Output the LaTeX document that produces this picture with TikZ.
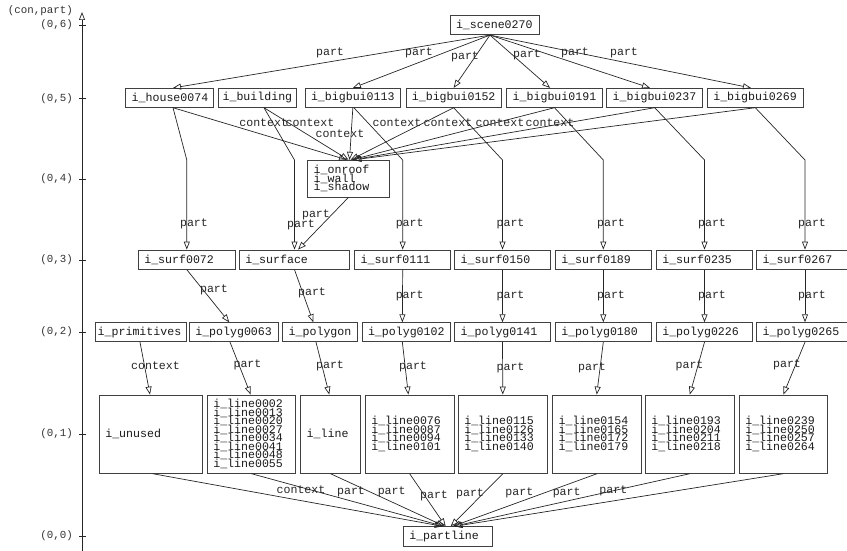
\documentclass[tikz,border=0pt]{standalone}
\usepackage{fontspec}
\newfontfamily\monof{Liberation Mono}
\usetikzlibrary{arrows.meta}
\lineskiplimit=-100pt
\lineskip=0pt
\normallineskiplimit=-100pt
\normallineskip=0pt
\newcommand\tightlines{\lineskiplimit-100pt\relax\lineskip0pt\relax}
\begin{document}
\begin{tikzpicture}[x=1pt,y=-1pt,
  box/.style={draw=black!75, line width=0.8pt, font=\monof\fontsize{11.6}{8.5}\selectfont\tightlines, align=left, inner xsep=6pt, inner ysep=0pt, anchor=center, text=black!90},
  lbl/.style={font=\monof\fontsize{11.6}{11.6}\selectfont, inner sep=0pt, text=black!85},
  axlbl/.style={font=\monof\fontsize{10.8}{10.8}\selectfont, inner sep=0pt, anchor=east, text=black!80},
  arr/.style={draw=black!85, line width=0.7pt, -{Triangle[open,length=8pt,width=6pt]}},
  tick/.style={draw=black!85, line width=0.8pt},
]
\useasboundingbox (0,0) rectangle (847,551);
\clip (0,0) rectangle (847,551);
% axis
\coordinate (axbot) at (82,551);
\coordinate (axtop) at (82,12);
\draw[arr] (axbot) -- (axtop);
\node[axlbl] (axname) at (73,11) {(con,part)};
\foreach \yy/\lab in {25/6,98.3/5,179/4,260/3,332/2,434/1,536/0}{
  \draw[tick] (79,\yy) -- (86,\yy);
  \node[axlbl] (ax\lab) at (73,\yy) {(0,\lab)};
}
% level 6
\node[box, text width=77.3pt, minimum height=19pt] (scene) at (494.65,25.2) {i\_scene0270};
% level 5
\node[box, text width=75.6pt, minimum height=19pt] (house) at (169.5,97.8) {i\_house0074};
\node[box, text width=69.5pt, inner xsep=4.5pt, minimum height=19pt] (building) at (257.35,97.8) {i\_building};
\node[box, text width=83.7pt, minimum height=19pt] (b0113) at (352.85,97.8) {i\_bigbui0113};
\node[box, text width=83.5pt, minimum height=19pt] (b0152) at (453.65,97.8) {i\_bigbui0152};
\node[box, text width=83.6pt, minimum height=19pt] (b0191) at (554.5,97.8) {i\_bigbui0191};
\node[box, text width=84pt, minimum height=19pt] (b0237) at (654.7,97.8) {i\_bigbui0237};
\node[box, text width=84pt, minimum height=19pt] (b0269) at (755.3,97.8) {i\_bigbui0269};
% level 4
\node[box, text width=69.6pt, minimum height=36.7pt] (onroof) at (348.5,178.6) {i\_onroof\\i\_wall\\i\_shadow};
% level 3
\node[box, text width=85pt, minimum height=19.3pt] (surfA) at (186.8,259.65) {i\_surf0072};
\node[box, text width=98.4pt, minimum height=19.3pt] (surface) at (294.5,259.65) {i\_surface};
\node[box, text width=84pt, minimum height=19.3pt] (s0111) at (402.7,259.65) {i\_surf0111};
\node[box, text width=83.6pt, minimum height=19.3pt] (s0150) at (502.5,259.65) {i\_surf0150};
\node[box, text width=84pt, minimum height=19.3pt] (s0189) at (603.3,259.65) {i\_surf0189};
\node[box, text width=84.4pt, minimum height=19.3pt] (s0235) at (704.5,259.65) {i\_surf0235};
\node[box, text width=84.6pt, minimum height=19.3pt] (s0267) at (805,259.65) {i\_surf0267};
% level 2
\node[box, text width=87pt, inner xsep=2pt, minimum height=19pt] (primitives) at (141.2,332.2) {i\_primitives};
\node[box, text width=77pt, minimum height=19pt] (p0063) at (233.8,332.2) {i\_polyg0063};
\node[box, text width=62.6pt, minimum height=19pt] (polygon) at (320,332.2) {i\_polygon};
\node[box, text width=76.7pt, minimum height=19pt] (p0102) at (406.35,332.2) {i\_polyg0102};
\node[box, text width=83.6pt, minimum height=19pt] (p0141) at (502.5,332.2) {i\_polyg0141};
\node[box, text width=84pt, minimum height=19pt] (p0180) at (603.3,332.2) {i\_polyg0180};
\node[box, text width=84.4pt, minimum height=19pt] (p0226) at (704.5,332.2) {i\_polyg0226};
\node[box, text width=84.6pt, minimum height=19pt] (p0265) at (805,332.2) {i\_polyg0265};
% level 1
\node[box, text width=91pt, minimum height=78.3pt] (unused) at (150.8,434.15) {i\_unused};
\node[box, text width=76.4pt, minimum height=78.3pt] (L1) at (251.5,434.15) {i\_line0002\\i\_line0013\\i\_line0020\\i\_line0027\\i\_line0034\\i\_line0041\\i\_line0048\\i\_line0055};
\node[box, text width=47.6pt, minimum height=78.3pt] (line) at (330.5,434.15) {i\_line};
\node[box, text width=76.7pt, minimum height=78.3pt] (L2) at (409.65,434.15) {i\_line0076\\i\_line0087\\i\_line0094\\i\_line0101};
\node[box, text width=77pt, minimum height=78.3pt] (L3) at (502.8,434.15) {i\_line0115\\i\_line0126\\i\_line0133\\i\_line0140};
\node[box, text width=76.6pt, minimum height=78.3pt] (L4) at (597,434.15) {i\_line0154\\i\_line0165\\i\_line0172\\i\_line0179};
\node[box, text width=77pt, minimum height=78.3pt] (L5) at (689.8,434.15) {i\_line0193\\i\_line0204\\i\_line0211\\i\_line0218};
\node[box, text width=76pt, minimum height=78.3pt] (L6) at (783.3,434.15) {i\_line0239\\i\_line0250\\i\_line0257\\i\_line0264};
% level 0
\node[box, text width=76.7pt, minimum height=19.3pt] (partline) at (447.65,536.35) {i\_partline};

% scene -> level 5
\draw[arr] ([xshift=-4.7pt]scene.south) -- ([xshift=3.5pt]house.north);
\draw[arr] ([xshift=-4.7pt]scene.south) -- (b0113.north);
\draw[arr] ([xshift=-4.7pt]scene.south) -- (b0152.north);
\draw[arr] ([xshift=-4.7pt]scene.south) -- ([xshift=-4.5pt]b0191.north);
\draw[arr] ([xshift=-4.7pt]scene.south) -- ([xshift=-4.7pt]b0237.north);
\draw[arr] ([xshift=-4.7pt]scene.south) -- ([xshift=-4.3pt]b0269.north);
\node[lbl] (t1) at (330,53) {part};
\node[lbl] (t2) at (419,53) {part};
\node[lbl] (t3) at (465,57) {part};
\node[lbl] (t4) at (527,55) {part};
\node[lbl] (t5) at (575,53) {part};
\node[lbl] (t6) at (624,53) {part};

% context -> onroof
\draw[arr] ([xshift=3.5pt]house.south) -- ([xshift=-1.5pt]onroof.north);
\draw[arr] ([xshift=6.6pt]building.south) -- (onroof.north);
\draw[arr] (b0113.south) -- ([xshift=1pt]onroof.north);
\draw[arr] (b0152.south) -- ([xshift=2pt]onroof.north);
\draw[arr] (b0191.south) -- ([xshift=3pt]onroof.north);
\draw[arr] (b0237.south) -- ([xshift=4pt]onroof.north);
\draw[arr] (b0269.south) -- ([xshift=5pt]onroof.north);
\node[lbl] (c1) at (263.7,123) {context};
\node[lbl] (c2) at (310,123) {context};
\node[lbl] (c3) at (340,134) {context};
\node[lbl] (c4) at (397,123) {context};
\node[lbl] (c5) at (448,123) {context};
\node[lbl] (c6) at (500,123) {context};
\node[lbl] (c7) at (550,123) {context};

% level 5 -> level 3
\coordinate (yb) at (0,160);
\draw[arr] ([xshift=3.5pt]house.south) -- (surfA.north |- yb) -- (surfA.north);
\draw[arr] ([xshift=6.6pt]building.south) -- (surface.north |- yb) -- (surface.north);
\draw[arr] ([xshift=1pt]b0113.south) -- (s0111.north |- yb) -- (s0111.north);
\draw[arr] (b0152.south) -- (s0150.north |- yb) -- (s0150.north);
\draw[arr] (b0191.south) -- (s0189.north |- yb) -- (s0189.north);
\draw[arr] (b0237.south) -- (s0235.north |- yb) -- (s0235.north);
\draw[arr] (b0269.south) -- (s0267.north |- yb) -- (s0267.north);
\draw[arr] (onroof.south) -- ([xshift=3.5pt]surface.north);
\node[lbl] (u1) at (194,224) {part};
\node[lbl] (u2) at (301,225) {part};
\node[lbl] (u3) at (409.7,224) {part};
\node[lbl] (u4) at (510.5,224) {part};
\node[lbl] (u5) at (611,224) {part};
\node[lbl] (u6) at (712,224) {part};
\node[lbl] (u7) at (812,224) {part};
\node[lbl] (u8) at (316,215) {part};

% level 3 -> level 2
\draw[arr] (surfA.south) -- ([xshift=-4.5pt]p0063.north);
\draw[arr] (surface.south) -- ([xshift=-6.7pt]polygon.north);
\draw[arr] (s0111.south) -- ([xshift=-4pt]p0102.north);
\draw[arr] (s0150.south) -- (p0141.north);
\draw[arr] (s0189.south) -- (p0180.north);
\draw[arr] (s0235.south) -- (p0226.north);
\draw[arr] (s0267.south) -- (p0265.north);
\node[lbl] (v1) at (214,290) {part};
\node[lbl] (v2) at (312,292.7) {part};
\node[lbl] (v3) at (409.7,296) {part};
\node[lbl] (v4) at (510.5,296) {part};
\node[lbl] (v5) at (611,296) {part};
\node[lbl] (v6) at (712,296) {part};
\node[lbl] (v7) at (812,296) {part};

% level 2 -> level 1
\draw[arr] ([xshift=-1.2pt]primitives.south) -- ([xshift=-0.8pt]unused.north);
\draw[arr] ([xshift=-3.8pt]p0063.south) -- ([xshift=-0.8pt]L1.north);
\draw[arr] ([xshift=-4pt]polygon.south) -- ([xshift=-1.2pt]line.north);
\draw[arr] ([xshift=-4pt]p0102.south) -- ([xshift=-1.3pt]L2.north);
\draw[arr] (p0141.south) -- (L3.north);
\draw[arr] (p0180.south) -- ([xshift=-0.3pt]L4.north);
\draw[arr] (p0226.south) -- (L5.north);
\draw[arr] (p0265.south) -- (L6.north);
\node[lbl] (w1) at (155.5,365.7) {context};
\node[lbl] (w2) at (247.5,365) {part};
\node[lbl] (w3) at (330,365.7) {part};
\node[lbl] (w4) at (413,367.3) {part};
\node[lbl] (w5) at (510.5,368.3) {part};
\node[lbl] (w6) at (592,367.7) {part};
\node[lbl] (w7) at (689.5,365.7) {part};
\node[lbl] (w8) at (787,365) {part};

% level 1 -> partline
\draw[arr] ([xshift=1.9pt]unused.south) -- ([xshift=-5pt]partline.north);
\draw[arr] (L1.south) -- ([xshift=-4pt]partline.north);
\draw[arr] (line.south) -- ([xshift=-3pt]partline.north);
\draw[arr] (L2.south) -- ([xshift=-2pt]partline.north);
\draw[arr] (L3.south) -- ([xshift=3pt]partline.north);
\draw[arr] (L4.south) -- ([xshift=5pt]partline.north);
\draw[arr] (L5.south) -- ([xshift=6pt]partline.north);
\draw[arr] (L6.south) -- ([xshift=7pt]partline.north);
\node[lbl] (z1) at (301,489.3) {context};
\node[lbl] (z2) at (351,492.3) {part};
\node[lbl] (z3) at (391.7,492.3) {part};
\node[lbl] (z4) at (434,495.7) {part};
\node[lbl] (z5) at (470,494) {part};
\node[lbl] (z6) at (519.3,492.7) {part};
\node[lbl] (z7) at (566.7,492.7) {part};
\node[lbl] (z8) at (613.3,491) {part};
\end{tikzpicture}
\end{document}
